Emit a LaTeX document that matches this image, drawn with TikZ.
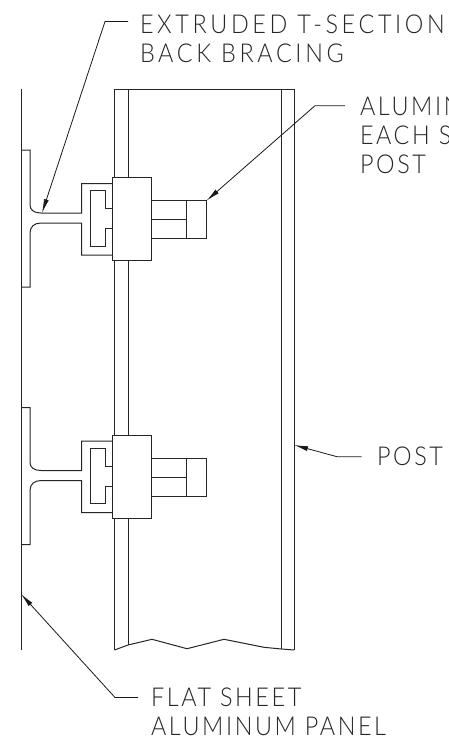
\documentclass[tikz,border=0pt]{standalone}
\usepackage{fontspec}
\setmainfont{Lato Light}[LetterSpace=10,FakeStretch=0.9]
\usetikzlibrary{arrows.meta}
\tikzset{
  dwg/.style={line width=1pt,line join=miter,color=black!85},
  thin part/.style={line width=0.95pt,color=black!85},
  leader/.style={line width=0.8pt,color=black!90},
  tip/.style={-{Latex[length=14pt,width=5pt]}},
  lbl/.style={anchor=north west,inner sep=0pt,outer sep=0pt,align=left,font=\fontsize{26}{29}\selectfont,color=black!85},
  bracket/.pic={
    \draw[dwg] (21,0) -- (30,0) -- (30,55) .. controls (30,60) and (34,63) .. (41,63) -- (81.5,63) -- (81.5,33.5) -- (112,33.5);
    \draw[dwg] (21,137) -- (30,137) -- (30,83) .. controls (30,77) and (34,73) .. (41,73) -- (81.5,73) -- (81.5,105) -- (112,105);
    \draw[dwg] (112,58.5) -- (105.5,58.5) -- (105.5,40.7) -- (90.5,40.7) -- (90.5,96) -- (105.5,96) -- (105.5,78.5) -- (112,78.5);
    \draw[dwg,fill=white] (112,27.7) rectangle (151.5,110.7);
    \draw[dwg] (151.5,50.7) rectangle (206.5,88.5);
    \draw[dwg] (151.5,69.7) -- (186,69.7);
    \draw[dwg] (186,50.7) -- (186,88.5);
  }
}
\begin{document}
\begin{tikzpicture}[x=1pt,y=-1pt]
\useasboundingbox (0,0) rectangle (448,739);
\fill[white] (0,0) rectangle (448,739);
% post
\draw[dwg] (114.5,650) -- (114.5,89) -- (294,89) -- (294,650);
\draw[dwg] (128,645) -- (128,89);
\draw[dwg] (281.5,649) -- (281.5,89);
\draw[dwg] (114.5,650) -- (128,645) -- (152,639.3) -- (187,648.7) -- (224,639.3) -- (264,647.3) -- (281.5,649) -- (294,650);
% panel
\draw[thin part] (21,89) -- (21,650);
\pic at (0,150) {bracket};
\pic at (0,407.5) {bracket};
% targets
\coordinate (tTee) at (42,213);
\coordinate (tBolt) at (206.5,200.7);
\coordinate (tPost) at (294,445);
\coordinate (tPanel) at (21,594);
\coordinate (k1) at (105,21.5);
\coordinate (e1) at (128,21.5);
\coordinate (k2) at (315,105.7);
\coordinate (e2) at (345,105.7);
\coordinate (k3) at (337,456.7);
\coordinate (e3) at (361.7,456.7);
\coordinate (k4) at (115,697.5);
\coordinate (e4) at (138,697.5);
\draw[leader,tip] (e1) -- (k1) -- (tTee);
\draw[leader,tip] (e2) -- (k2) -- (tBolt);
\draw[leader,tip] (e3) -- (k3) -- (tPost);
\draw[leader,tip] (e4) -- (k4) -- (tPanel);
% labels
\node[lbl] (l1) at (140,15) {\addfontfeatures{LetterSpace=14}EXTRUDED T-SECTION\\\addfontfeatures{LetterSpace=14}BACK BRACING};
\node[lbl] (l2) at (360,97) {ALUMIN\\EACH S\\POST};
\node[lbl] (l3) at (377,446.5) {POST};
\node[lbl] (l4) at (151,688) {FLAT SHEET\\ALUMINUM PANEL};
\end{tikzpicture}
\end{document}
